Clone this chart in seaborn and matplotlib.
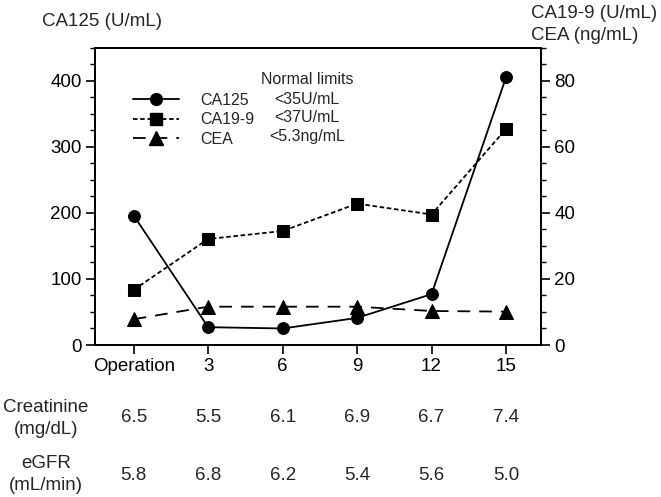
import numpy as np
import pandas as pd
import matplotlib
matplotlib.use("Agg")
import matplotlib.pyplot as plt
import seaborn as sns
from matplotlib.ticker import MultipleLocator
from matplotlib.lines import Line2D
import matplotlib.transforms as mtransforms

# ---- data ----
timepoints = ["Operation", "3", "6", "9", "12", "15"]
ca125 = [196, 27, 25, 41, 77, 405]
ca199 = [16.7, 32.1, 34.5, 42.8, 39.5, 65.4]
cea = [7.8, 11.6, 11.6, 11.6, 10.3, 10.1]
creatinine = ["6.5", "5.5", "6.1", "6.9", "6.7", "7.4"]
egfr = ["5.8", "6.8", "6.2", "5.4", "5.6", "5.0"]
series_names = ["CA125", "CA19-9", "CEA"]
normal_limits = ["<35U/mL", "<37U/mL", "<5.3ng/mL"]

sns.set_style("ticks")
plt.rcParams["font.family"] = ["Liberation Sans", "DejaVu Sans"]
FS = 13.5
LFS = 11.5

df = pd.DataFrame({"x": np.arange(len(timepoints)), "ca125": ca125,
                   "ca199": ca199, "cea": cea})

W, H = 661, 497
fig = plt.figure(figsize=(W/100, H/100), dpi=100)
L, R, T, B = 95, 541, 47.7, 345
ax = fig.add_axes([L/W, 1-B/H, (R-L)/W, (B-T)/H])
ax2 = ax.twinx()

sty_solid = "-"
sty_dot = (0, (2.5, 1.5))
sty_dash = (0, (7, 5))

sns.lineplot(data=df, x="x", y="ca125", ax=ax, color="black", marker="o",
             markersize=8.5, linewidth=1.3, linestyle=sty_solid,
             markeredgecolor="black", zorder=3)
sns.lineplot(data=df, x="x", y="ca199", ax=ax2, color="black", marker="s",
             markersize=8.5, linewidth=1.3, linestyle=sty_dot,
             markeredgecolor="black")
sns.lineplot(data=df, x="x", y="cea", ax=ax2, color="black", marker="^",
             markersize=10, linewidth=1.3, linestyle=sty_dash,
             markeredgecolor="black")

ax.set_xlim(-0.52, 5.47)
ax.set_ylim(0, 450)
ax2.set_ylim(0, 90)
ax.set_xticks(df["x"])
ax.set_xticklabels(timepoints)
ax.set_yticks([0, 100, 200, 300, 400])
ax2.set_yticks([0, 20, 40, 60, 80])
ax.yaxis.set_minor_locator(MultipleLocator(25))
ax2.yaxis.set_minor_locator(MultipleLocator(5))

for a in (ax, ax2):
    a.set_xlabel("")
    a.set_ylabel("")
    for s in a.spines.values():
        s.set_linewidth(1.4)
        s.set_color("black")
    a.tick_params(axis="both", which="major", length=6.5, width=1.2,
                  labelsize=FS, colors="black", pad=3)
    a.tick_params(axis="y", which="minor", length=3.5, width=1.0, colors="black")
ax.tick_params(axis="x", pad=3)

fig.text(42/W, 1-22/H, "CA125 (U/mL)", fontsize=FS, ha="left", va="center")
fig.text(531/W, 1-13/H, "CA19-9 (U/mL)", fontsize=FS, ha="left", va="center")
fig.text(531/W, 1-35/H, "CEA (ng/mL)", fontsize=FS, ha="left", va="center")

# legend
handles = [
    Line2D([], [], color="black", marker="o", markersize=8.5, linewidth=1.3, linestyle=sty_solid),
    Line2D([], [], color="black", marker="s", markersize=8.5, linewidth=1.3, linestyle=sty_dot),
    Line2D([], [], color="black", marker="^", markersize=10, linewidth=1.3, linestyle=sty_dash),
]
leg = ax.legend(handles, series_names, loc="upper left",
                bbox_to_anchor=((133-L)/(R-L), 1-(93-T)/(B-T)), frameon=False,
                handlelength=2.9, fontsize=LFS, labelspacing=0.28,
                handletextpad=1.3, borderaxespad=0, borderpad=0)
fig.text(307/W, 1-80/H, "Normal limits", fontsize=LFS, ha="center", va="center")
for i, lim in enumerate(normal_limits):
    fig.text(307/W, 1-(99+19*i)/H, lim, fontsize=LFS, ha="center", va="center")

# table rows below
trans = mtransforms.blended_transform_factory(ax.transData, fig.transFigure)
for i in range(len(timepoints)):
    ax.text(i, 1-417/H, creatinine[i], transform=trans, ha="center",
            va="center", fontsize=FS, clip_on=False)
    ax.text(i, 1-475/H, egfr[i], transform=trans, ha="center",
            va="center", fontsize=FS, clip_on=False)
fig.text(46/W, 1-407/H, "Creatinine", ha="center", va="center", fontsize=FS)
fig.text(46/W, 1-430/H, "(mg/dL)", ha="center", va="center", fontsize=FS)
fig.text(46/W, 1-463/H, "eGFR", ha="center", va="center", fontsize=FS)
fig.text(46/W, 1-486/H, "(mL/min)", ha="center", va="center", fontsize=FS)

fig.savefig("out.png", dpi=100)
